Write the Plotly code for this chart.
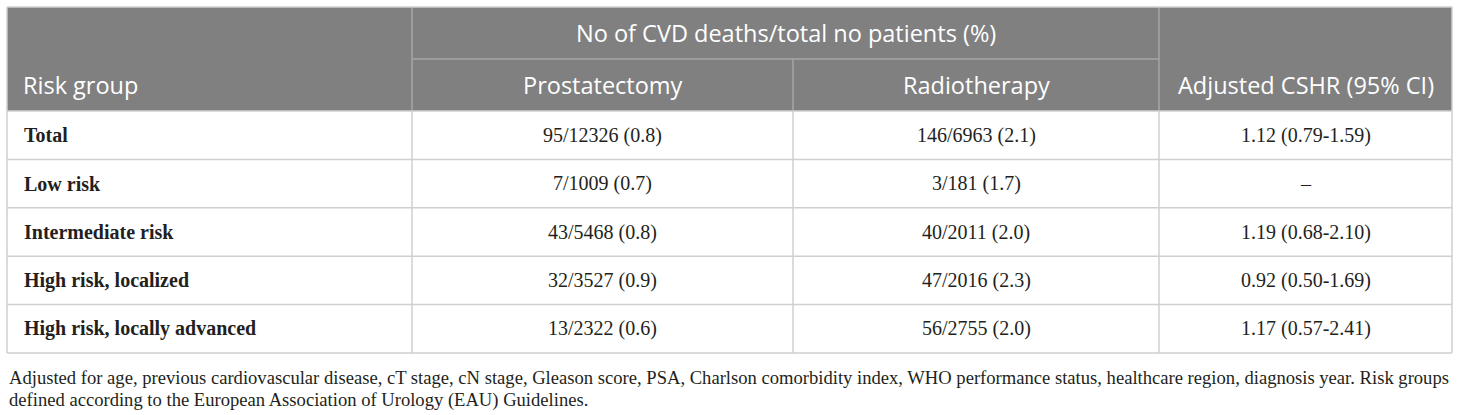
import plotly.graph_objects as go

# table content
group_title = "No of CVD deaths/total no patients (%)"
col_headers = ["Risk group", "Prostatectomy", "Radiotherapy", "Adjusted CSHR (95% CI)"]
risk_groups = ["Total", "Low risk", "Intermediate risk", "High risk, localized",
               "High risk, locally advanced"]
prostatectomy = ["95/12326 (0.8)", "7/1009 (0.7)", "43/5468 (0.8)", "32/3527 (0.9)", "13/2322 (0.6)"]
radiotherapy = ["146/6963 (2.1)", "3/181 (1.7)", "40/2011 (2.0)", "47/2016 (2.3)", "56/2755 (2.0)"]
cshr = ["1.12 (0.79-1.59)", "–", "1.19 (0.68-2.10)", "0.92 (0.50-1.69)", "1.17 (0.57-2.41)"]
footnote = ["Adjusted for age, previous cardiovascular disease, cT stage, cN stage, Gleason score, PSA, "
            "Charlson comorbidity index, WHO performance status, healthcare region, diagnosis year. Risk groups",
            "defined according to the European Association of Urology (EAU) Guidelines."]

W, H = 1460, 415
xs = [7, 412, 793, 1159, 1452]          # column edges
y_top, y_mid, y_head = 7, 59, 111       # header rows
row_h = 48.4
HEAD_BG = "#808080"
HEAD_LINE = "#a6a6a6"
GRID = "#cfcfcf"
INK = "#231f20"
SANS = "Open Sans, Noto Sans, sans-serif"
SERIF = "Liberation Serif, Times New Roman, serif"

fig = go.Figure()
shapes = []
annots = []


def line(x0, y0, x1, y1, color, w=1.5):
    shapes.append(dict(type="line", x0=x0, y0=y0, x1=x1, y1=y1, xref="x", yref="y",
                       line=dict(color=color, width=w)))


def text(x, y, s, font, size, color, anchor="center", bold=False):
    annots.append(dict(x=x, y=y, xref="x", yref="y", text=f"<b>{s}</b>" if bold else s,
                       showarrow=False, xanchor=anchor, yanchor="middle",
                       font=dict(family=font, size=size, color=color)))


# header background
shapes.append(dict(type="rect", x0=xs[0], y0=y_top, x1=xs[-1], y1=y_head, xref="x", yref="y",
                   fillcolor=HEAD_BG, line=dict(width=0), layer="below"))

n = len(risk_groups)
y_bottom = y_head + n * row_h

# header inner lines
line(xs[1], y_mid, xs[3], y_mid, HEAD_LINE)
line(xs[1], y_top, xs[1], y_head, HEAD_LINE)
line(xs[3], y_top, xs[3], y_head, HEAD_LINE)
line(xs[2], y_mid, xs[2], y_head, HEAD_LINE)

# body grid
for i in range(n + 1):
    line(xs[0], y_head + i * row_h, xs[-1], y_head + i * row_h, GRID)
for x in xs:
    line(x, y_head, x, y_bottom, GRID)
# outer header border
line(xs[0], y_top, xs[-1], y_top, GRID)
line(xs[0], y_top, xs[0], y_head, GRID)
line(xs[-1], y_top, xs[-1], y_head, GRID)

# header text
hs = 23.5
text((xs[1] + xs[3]) / 2, (y_top + y_mid) / 2, group_title, SANS, hs, "white")
text(xs[0] + 14, (y_mid + y_head) / 2, col_headers[0], SANS, hs, "white", anchor="left")
for j in range(1, 4):
    text((xs[j] + xs[j + 1]) / 2, (y_mid + y_head) / 2, col_headers[j], SANS, hs, "white")

# body text
bs = 20
for i in range(n):
    yc = y_head + (i + 0.5) * row_h
    text(xs[0] + 15, yc, risk_groups[i], SERIF, bs, INK, anchor="left", bold=True)
    for j, col in enumerate([prostatectomy, radiotherapy, cshr], start=1):
        text((xs[j] + xs[j + 1]) / 2, yc, col[i], SERIF, bs, INK)

# footnote
for k, s in enumerate(footnote):
    text(xs[0], 377 + k * 23, s, SERIF, 18.6, INK, anchor="left")

fig.update_layout(
    width=W, height=H, margin=dict(l=0, r=0, t=0, b=0),
    paper_bgcolor="white", plot_bgcolor="white",
    xaxis=dict(range=[0, W], visible=False, fixedrange=True),
    yaxis=dict(range=[H, 0], visible=False, fixedrange=True),
    shapes=shapes, annotations=annots, showlegend=False,
)
fig.write_html("out.html", config={"displayModeBar": False},
               post_script="document.body.style.margin='0';")
